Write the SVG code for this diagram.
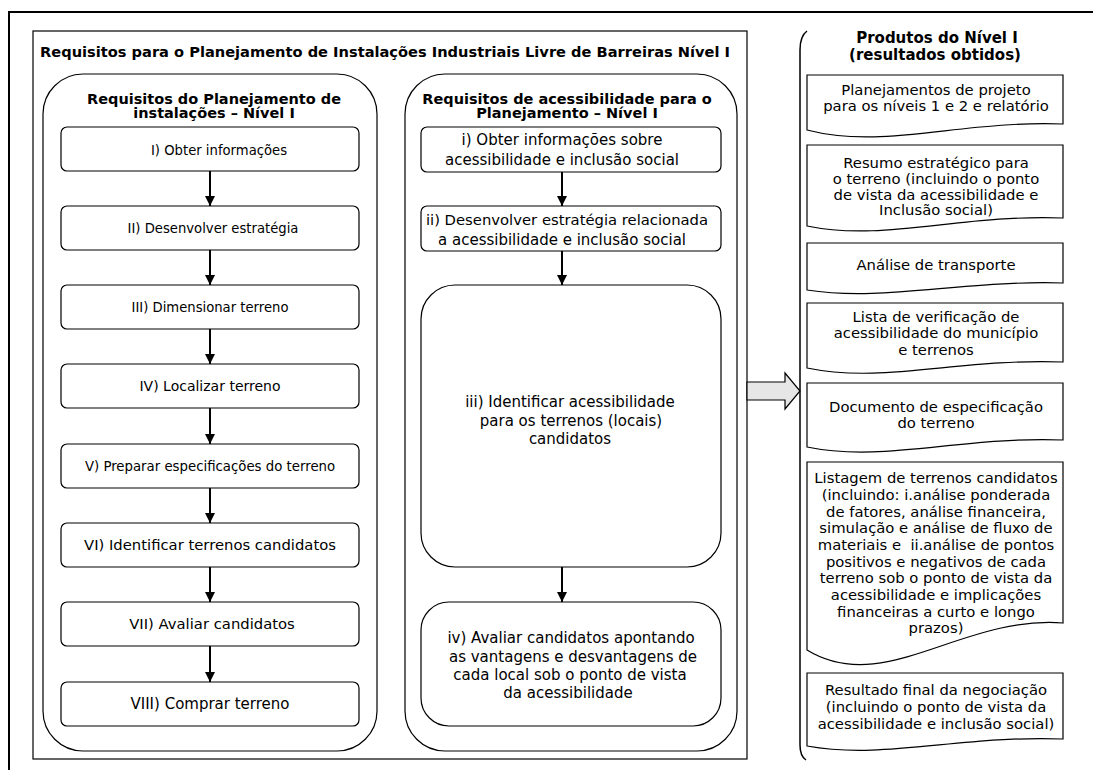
<svg xmlns="http://www.w3.org/2000/svg" width="1093" height="770" viewBox="0 0 1093 770">
<defs>
<style>
text{font-family:"DejaVu Sans",Verdana,sans-serif;fill:#000}
.b{font-weight:bold}
.m{text-anchor:middle}
.box{fill:#fff;stroke:#000;stroke-width:1.2}
.cont{fill:none;stroke:#000;stroke-width:1.2}
.doc{fill:#fff;stroke:#000;stroke-width:1.2}
.conn{stroke:#000;stroke-width:2;fill:none}
</style>
<marker id="ah" markerUnits="userSpaceOnUse" markerWidth="10" markerHeight="10" refX="10" refY="5" orient="auto">
<path d="M0,0 L10,5 L0,10 Z" fill="#000"/>
</marker>
</defs>
<rect width="1093" height="770" fill="#fff"/>
<!-- outer frame -->
<rect x="9" y="12" width="1100" height="780" fill="none" stroke="#000" stroke-width="2"/>
<!-- inner frame -->
<g id="frame">
<rect x="33" y="31" width="714" height="728" fill="none" stroke="#000" stroke-width="1.2"/>
<text x="40" y="57" class="b" font-size="14" textLength="690" lengthAdjust="spacingAndGlyphs">Requisitos para o Planejamento de Instalações Industriais Livre de Barreiras Nível I</text>
</g>
<!-- left column -->
<g id="colLeft">
<rect x="43" y="74" width="334" height="677" rx="40" class="cont"/>
<text class="b m" font-size="14.5" x="214" y="104">Requisitos do Planejamento de</text>
<text class="b m" font-size="14.5" x="214" y="118">instalações – Nível I</text>
</g>
<g id="L1"><rect x="61" y="127" width="298" height="44" rx="6" class="box"/><text class="m" font-size="13.2" x="219" y="155">I) Obter informações</text></g>
<g id="L2"><rect x="61" y="206" width="298" height="44" rx="6" class="box"/><text class="m" font-size="13.2" x="213" y="233">II) Desenvolver estratégia</text></g>
<g id="L3"><rect x="61" y="285" width="298" height="44" rx="6" class="box"/><text class="m" font-size="13.2" x="210" y="312">III) Dimensionar terreno</text></g>
<g id="L4"><rect x="61" y="364" width="298" height="44" rx="6" class="box"/><text class="m" font-size="14" x="210" y="391">IV) Localizar terreno</text></g>
<g id="L5"><rect x="61" y="444" width="298" height="44" rx="6" class="box"/><text class="m" font-size="13.3" x="210" y="471">V) Preparar especificações do terreno</text></g>
<g id="L6"><rect x="61" y="523" width="298" height="44" rx="6" class="box"/><text class="m" font-size="14.8" x="210" y="550">VI) Identificar terrenos candidatos</text></g>
<g id="L7"><rect x="61" y="602" width="298" height="44" rx="6" class="box"/><text class="m" font-size="14.8" x="212" y="629">VII) Avaliar candidatos</text></g>
<g id="L8"><rect x="61" y="682" width="298" height="44" rx="6" class="box"/><text class="m" font-size="15" x="210" y="709">VIII) Comprar terreno</text></g>
<!-- middle column -->
<g id="colMid">
<rect x="405" y="74" width="332" height="677" rx="40" class="cont"/>
<text class="b m" font-size="14.5" x="567" y="104">Requisitos de acessibilidade para o</text>
<text class="b m" font-size="14.5" x="567" y="118">Planejamento – Nível I</text>
</g>
<g id="M1"><rect x="421" y="127" width="300" height="45" rx="6" class="box"/>
<text class="m" font-size="15" x="562" y="145">i) Obter informações sobre</text>
<text class="m" font-size="15" x="562" y="165">acessibilidade e inclusão social</text></g>
<g id="M2"><rect x="421" y="206" width="300" height="45" rx="6" class="box"/>
<text class="m" font-size="14.8" x="567" y="225">ii) Desenvolver estratégia relacionada</text>
<text class="m" font-size="15" x="562" y="245">a acessibilidade e inclusão social</text></g>
<g id="M3"><rect x="421" y="285" width="300" height="282" rx="34" class="box"/>
<text class="m" font-size="15" x="570" y="407">iii) Identificar acessibilidade</text>
<text class="m" font-size="15" x="571" y="426">para os terrenos (locais)</text>
<text class="m" font-size="15" x="570" y="444">candidatos</text></g>
<g id="M4"><rect x="421" y="602" width="300" height="124" rx="28" class="box"/>
<text class="m" font-size="15" x="571" y="643">iv) Avaliar candidatos apontando</text>
<text class="m" font-size="15" x="573" y="662">as vantagens e desvantagens de</text>
<text class="m" font-size="15" x="570" y="680">cada local sob o ponto de vista</text>
<text class="m" font-size="15" x="568" y="698">da acessibilidade</text></g>
<!-- block arrow -->
<g id="bigArrow"><polygon points="747,382 785,382 785,373 800,391 785,409 785,400 747,400" fill="#e6e6e6" stroke="#000" stroke-width="1.2"/></g>
<!-- right panel -->
<g id="products">
<path d="M807 31 Q800 36 800 50 L800 745 Q800 756 806 760" fill="none" stroke="#000" stroke-width="1.5"/>
<text class="b m" font-size="15" x="937" y="43">Produtos do Nível I</text>
<text class="b m" font-size="15" x="935" y="60">(resultados obtidos)</text>
</g>
<g id="D1"><path class="doc" d="M807 75 H1063 V124 C961 120 884 150 807 130 Z"/>
<text class="m" font-size="14.8" x="936" y="95">Planejamentos de projeto</text>
<text class="m" font-size="14.8" x="936" y="111">para os níveis 1 e 2 e relatório</text></g>
<g id="D2"><path class="doc" d="M807 145 H1063 V218 C961 214 884 242 807 226 Z"/>
<text class="m" font-size="14.8" x="936" y="168">Resumo estratégico para</text>
<text class="m" font-size="14.8" x="936" y="184">o terreno (incluindo o ponto</text>
<text class="m" font-size="14.8" x="936" y="200">de vista da acessibilidade e</text>
<text class="m" font-size="14.8" x="936" y="215">Inclusão social)</text></g>
<g id="D3"><path class="doc" d="M807 243 H1063 V283 C961 280 884 302 807 290 Z"/>
<text class="m" font-size="14.8" x="936" y="270">Análise de transporte</text></g>
<g id="D4"><path class="doc" d="M807 303 H1063 V362 C961 358 884 384 807 368 Z"/>
<text class="m" font-size="14.8" x="936" y="322">Lista de verificação de</text>
<text class="m" font-size="14.8" x="936" y="338">acessibilidade do município</text>
<text class="m" font-size="14.8" x="936" y="355">e terrenos</text></g>
<g id="D5"><path class="doc" d="M807 383 H1063 V440 C961 436 884 463 807 447 Z"/>
<text class="m" font-size="14.8" x="936" y="412">Documento de especificação</text>
<text class="m" font-size="14.8" x="936" y="428">do terreno</text></g>
<g id="D6"><path class="doc" d="M807 462 H1063 V623 C961 615 884 697 807 650 Z"/>
<text class="m" font-size="14.8" x="936" y="483">Listagem de terrenos candidatos</text>
<text class="m" font-size="14.8" x="936" y="500">(incluindo: i.análise ponderada</text>
<text class="m" font-size="14.8" x="936" y="517">de fatores, análise financeira,</text>
<text class="m" font-size="14.8" x="936" y="533">simulação e análise de fluxo de</text>
<text class="m" font-size="14.8" x="936" y="550" xml:space="preserve">materiais e  ii.análise de pontos</text>
<text class="m" font-size="14.8" x="936" y="567">positivos e negativos de cada</text>
<text class="m" font-size="14.8" x="936" y="583">terreno sob o ponto de vista da</text>
<text class="m" font-size="14.8" x="936" y="600">acessibilidade e implicações</text>
<text class="m" font-size="14.8" x="936" y="617">financeiras a curto e longo</text>
<text class="m" font-size="14.8" x="936" y="633">prazos)</text></g>
<g id="D7"><path class="doc" d="M807 673 H1063 V739 C961 735 884 760 807 746 Z"/>
<text class="m" font-size="14.8" x="936" y="695">Resultado final da negociação</text>
<text class="m" font-size="14.8" x="936" y="712">(incluindo o ponto de vista da</text>
<text class="m" font-size="14.8" x="936" y="729">acessibilidade e inclusão social)</text></g>
<!-- connectors -->
<g id="connectors" class="conn">
<line x1="210" y1="171" x2="210" y2="206" marker-end="url(#ah)"/>
<line x1="210" y1="250" x2="210" y2="285" marker-end="url(#ah)"/>
<line x1="210" y1="329" x2="210" y2="364" marker-end="url(#ah)"/>
<line x1="210" y1="408" x2="210" y2="444" marker-end="url(#ah)"/>
<line x1="210" y1="488" x2="210" y2="523" marker-end="url(#ah)"/>
<line x1="210" y1="567" x2="210" y2="602" marker-end="url(#ah)"/>
<line x1="210" y1="646" x2="210" y2="682" marker-end="url(#ah)"/>
<line x1="562" y1="172" x2="562" y2="206" marker-end="url(#ah)"/>
<line x1="562" y1="251" x2="562" y2="285" marker-end="url(#ah)"/>
<line x1="562" y1="567" x2="562" y2="602" marker-end="url(#ah)"/>
</g>
</svg>
